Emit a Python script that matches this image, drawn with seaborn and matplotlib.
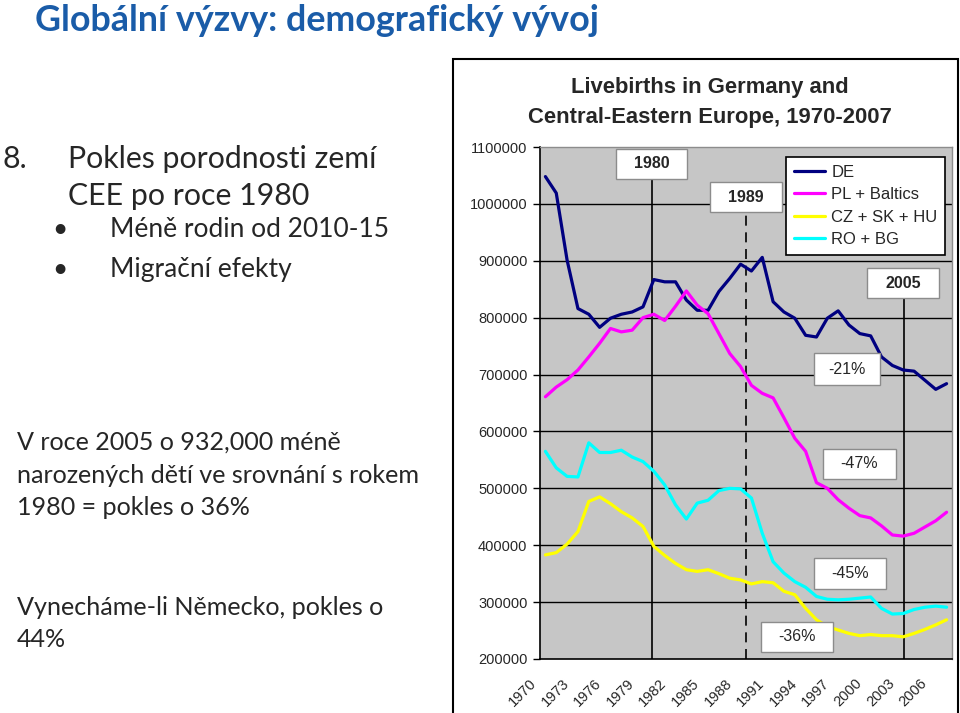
import numpy as np
import pandas as pd
import matplotlib
matplotlib.use("Agg")
import matplotlib.pyplot as plt
import matplotlib.patches as mpatches
import matplotlib.transforms as mtransforms
import seaborn as sns

# Data (live births per year)
years = list(range(1970, 2008))
de = [1048000, 1019000, 901000, 816000, 806000, 783000, 799000, 806000, 810000, 819000,
      867000, 863000, 863000, 831000, 813000, 813000, 846000, 869000, 894000, 882000,
      906000, 828000, 810000, 799000, 769000, 766000, 799000, 812000, 787000, 772000,
      768000, 731000, 716000, 708000, 706000, 690000, 674000, 684000]
pl_baltics = [661000, 678000, 691000, 708000, 731000, 755000, 781000, 775000, 778000, 800000,
              806000, 795000, 820000, 847000, 822000, 807000, 772000, 737000, 714000, 681000,
              667000, 659000, 624000, 588000, 565000, 510000, 500000, 480000, 465000, 452000,
              448000, 434000, 418000, 416000, 421000, 432000, 443000, 458000]
cz_sk_hu = [383000, 387000, 402000, 424000, 477000, 485000, 473000, 459000, 448000, 433000,
            398000, 382000, 368000, 357000, 354000, 357000, 350000, 342000, 339000, 332000,
            336000, 334000, 319000, 313000, 289000, 269000, 257000, 251000, 245000, 241000,
            243000, 241000, 241000, 239000, 245000, 252000, 260000, 269000]
ro_bg = [565000, 536000, 521000, 520000, 580000, 563000, 563000, 567000, 555000, 547000,
         530000, 506000, 471000, 446000, 474000, 479000, 496000, 500000, 499000, 483000,
         421000, 371000, 351000, 336000, 326000, 310000, 305000, 304000, 305000, 307000,
         309000, 289000, 279000, 280000, 287000, 291000, 293000, 291000]

series_names = ["DE", "PL + Baltics", "CZ + SK + HU", "RO + BG"]
series_colors = ["#000080", "#FF00FF", "#FFFF00", "#00FFFF"]
y_ticks = [200000, 300000, 400000, 500000, 600000, 700000, 800000, 900000, 1000000, 1100000]
label_years = years[::3]

# hand-drawn reference lines of the original slide (position on the year axis)
marker_labels = ["1980", "1989", "2005"]
marker_pos = [1979.84, 1988.52, 2003.08]
marker_styles = ["-", (0, (6, 4)), "-"]
change_labels = ["-21%", "-47%", "-45%", "-36%"]

df = pd.DataFrame({
    "Year": years * 4,
    "Births": de + pl_baltics + cz_sk_hu + ro_bg,
    "Region": sum([[n] * len(years) for n in series_names], []),
})

sns.set_theme(style="white")
plt.rcParams["font.family"] = ["Liberation Sans", "DejaVu Sans"]

W, H = 960, 713
fig = plt.figure(figsize=(W / 100, H / 100), dpi=100)
fig.patch.set_facecolor("white")

def fx(px):
    return px / W

def fy(py):
    return 1 - py / H

# slide title and texts
body = ["Lato", "DejaVu Sans"]
fig.text(fx(35), fy(31), "Globální výzvy: demografický vývoj", family=body, weight="bold",
         fontsize=25.8, color="#1A5CA8", va="baseline", ha="left")
fig.text(fx(2), fy(168), "8.", family=body, fontsize=21.8, va="baseline")
fig.text(fx(68), fy(168), "Pokles porodnosti zemí", family=body, fontsize=21.8, va="baseline")
fig.text(fx(68), fy(205), "CEE po roce 1980", family=body, fontsize=21.8, va="baseline")
for yb, t in [(237, "Méně rodin od 2010-15"), (277, "Migrační efekty")]:
    fig.text(fx(52), fy(yb), "•", family=body, fontsize=19, va="baseline")
    fig.text(fx(110), fy(yb), t, family=body, fontsize=19, va="baseline")
for yb, t in [(450, "V roce 2005 o 932,000 méně"),
              (483, "narozených dětí ve srovnání s rokem"),
              (515, "1980 = pokles o 36%"),
              (615, "Vynecháme-li Německo, pokles o"),
              (647, "44%")]:
    fig.text(fx(17), fy(yb), t, family=body, fontsize=18.1, va="baseline")

# outer chart frame
fig.add_artist(mpatches.Rectangle((fx(453), fy(740)), fx(958) - fx(453), fy(59) - fy(740),
                                  transform=fig.transFigure, fill=False, edgecolor="black",
                                  linewidth=1.5))
fig.text(fx(710), fy(88), "Livebirths in Germany and", fontsize=15.8, weight="bold",
         ha="center", va="center")
fig.text(fx(710), fy(117), "Central-Eastern Europe, 1970-2007", fontsize=15.8, weight="bold",
         ha="center", va="center")

ax = fig.add_axes([fx(540), fy(659), fx(952) - fx(540), fy(147) - fy(659)])
ax.set_facecolor("#C6C6C6")

sns.lineplot(data=df, x="Year", y="Births", hue="Region", hue_order=series_names,
             palette=dict(zip(series_names, series_colors)), linewidth=2.3, ax=ax,
             zorder=3)

ax.set_xlim(years[0] - 0.5, years[-1] + 0.5)
ax.set_ylim(y_ticks[0], y_ticks[-1])
ax.set_yticks(y_ticks)
ax.set_yticklabels([str(v) for v in y_ticks], fontsize=10.5)
for v in y_ticks[1:-1]:
    ax.axhline(v, color="black", linewidth=1, zorder=1)

ax.set_xticks(label_years)
ax.set_xticklabels([str(y) for y in label_years], fontsize=10.5)
ax.set_xticks([y - 0.5 for y in years] + [years[-1] + 0.5], minor=True)
ax.tick_params(axis="x", which="major", length=0, pad=16)
ax.tick_params(axis="x", which="minor", length=5, width=1, color="black", direction="out")
ax.tick_params(axis="y", length=5, width=1, color="black", direction="out", left=True, pad=4)
ax.set_xlabel("")
ax.set_ylabel("")

# rotated year labels, shifted left like the original Excel labels
offset = mtransforms.ScaledTranslation(-11 / 100, 0, fig.dpi_scale_trans)
for tick in ax.xaxis.get_major_ticks():
    lab = tick.label1
    lab.set_rotation(45)
    lab.set_ha("right")
    lab.set_va("center")
    lab.set_rotation_mode("anchor")
    lab.set_transform(lab.get_transform() + offset)

for side in ["left", "bottom"]:
    ax.spines[side].set_color("black")
    ax.spines[side].set_linewidth(1.2)
for side in ["top", "right"]:
    ax.spines[side].set_color("#8C8C8C")
    ax.spines[side].set_linewidth(1)

# annotation boxes (axes fraction: x0, y0, w, h)
year_boxes = [(0.1845, 0.9375, 0.1723, 0.0586),
              (0.4126, 0.873, 0.1748, 0.0586),
              (0.7937, 0.705, 0.1748, 0.0586)]
change_boxes = [(0.665, 0.535, 0.160, 0.0625),
                (0.687, 0.3516, 0.177, 0.0586),
                (0.665, 0.1367, 0.175, 0.0605),
                (0.536, 0.0137, 0.175, 0.0586)]

for pos, ls, (x0, y0, w, h) in zip(marker_pos, marker_styles, year_boxes):
    ax.axvline(pos, ymin=0, ymax=y0, color="black", linewidth=1.2, linestyle=ls, zorder=2)

def box(x0, y0, w, h, text, bold):
    ax.add_patch(mpatches.Rectangle((x0, y0), w, h, transform=ax.transAxes,
                                    facecolor="white", edgecolor="#8C8C8C", linewidth=1,
                                    zorder=5, clip_on=False))
    ax.text(x0 + w / 2, y0 + h / 2, text, transform=ax.transAxes, ha="center",
            va="center", fontsize=11.5, weight="bold" if bold else "normal", zorder=6)

for lab, b in zip(marker_labels, year_boxes):
    box(*b, lab, True)
for lab, b in zip(change_labels, change_boxes):
    box(*b, lab, False)

handles, labels = ax.get_legend_handles_labels()
leg = ax.legend(handles, labels, loc="upper right", bbox_to_anchor=(0.983, 0.98),
                frameon=True, fancybox=False, framealpha=1, edgecolor="black",
                fontsize=12, handlelength=1.9, handletextpad=0.35, labelspacing=0.45,
                borderpad=0.45, borderaxespad=0)
leg.get_frame().set_linewidth(1.2)
leg.set_zorder(7)

fig.savefig("out.png", dpi=100, facecolor="white")
